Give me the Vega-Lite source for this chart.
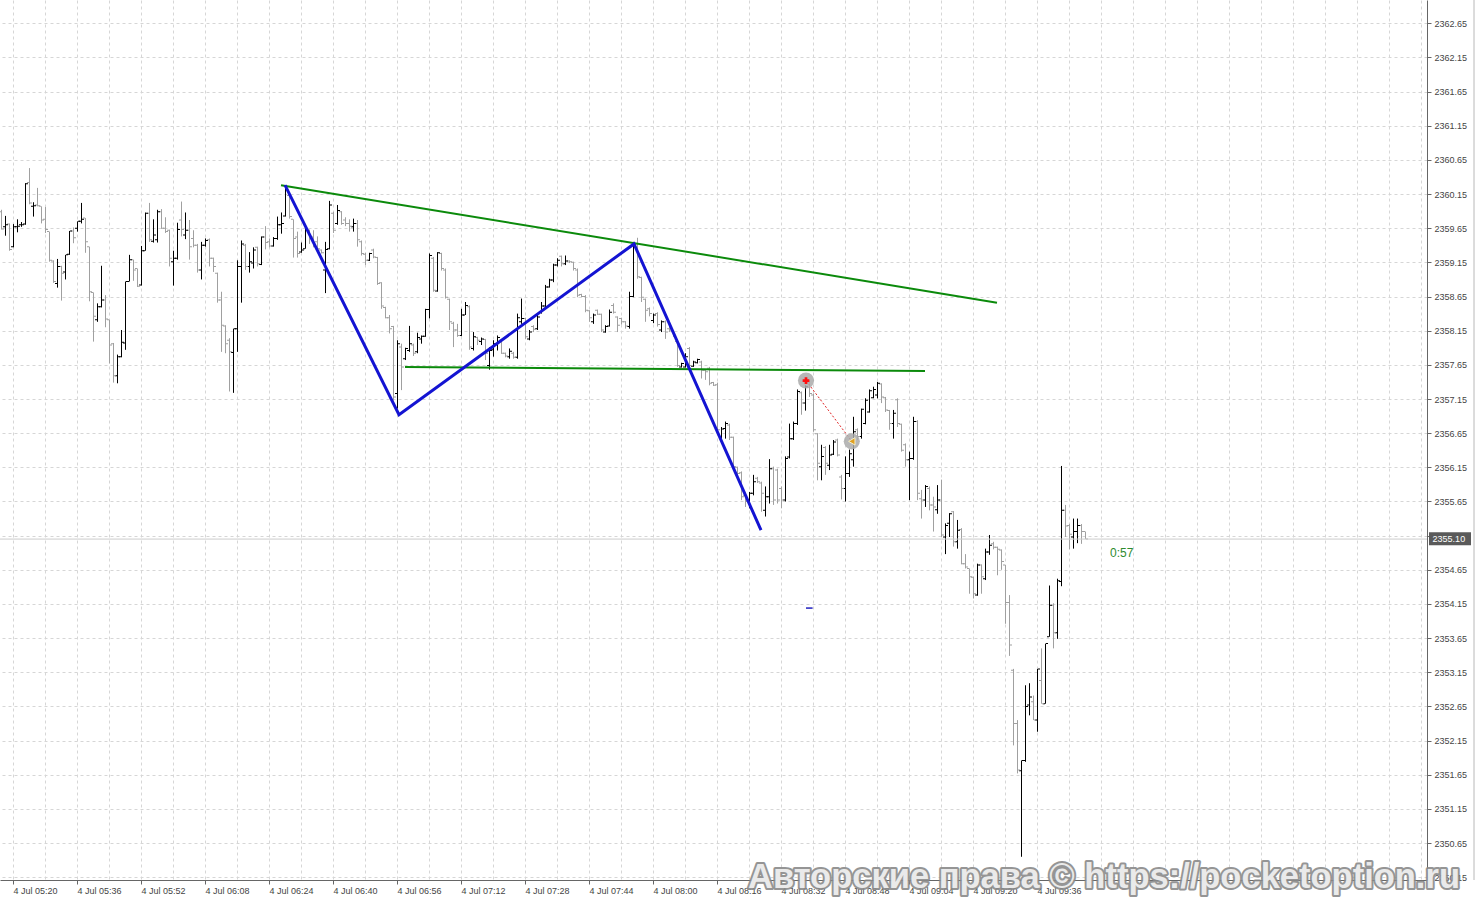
{
"$schema":"https://vega.github.io/schema/vega-lite/v6.json",
"width":1427,"height":880,
"autosize":{"type":"none"},
"padding":{"left":0,"top":0,"right":50,"bottom":21},
"background":"#ffffff",
"config":{"view":{"stroke":null}},
"datasets":{
"bars":[
{"t":-3,"o":2359.89,"h":2359.92,"l":2359.63,"c":2359.64},
{"t":-2,"o":2359.67,"h":2359.83,"l":2359.54,"c":2359.70},
{"t":-1,"o":2359.71,"h":2359.72,"l":2359.32,"c":2359.34},
{"t":0,"o":2359.38,"h":2359.71,"l":2359.37,"c":2359.67},
{"t":1,"o":2359.67,"h":2359.78,"l":2359.59,"c":2359.68},
{"t":2,"o":2359.70,"h":2359.74,"l":2359.67,"c":2359.70},
{"t":3,"o":2359.71,"h":2360.31,"l":2359.70,"c":2360.30},
{"t":4,"o":2360.32,"h":2360.53,"l":2360.00,"c":2360.02},
{"t":5,"o":2359.97,"h":2360.03,"l":2359.82,"c":2359.98},
{"t":6,"o":2359.99,"h":2360.24,"l":2359.97,"c":2359.98},
{"t":7,"o":2359.97,"h":2359.97,"l":2359.72,"c":2359.77},
{"t":8,"o":2359.78,"h":2359.96,"l":2359.58,"c":2359.63},
{"t":9,"o":2359.60,"h":2359.60,"l":2359.16,"c":2359.18},
{"t":10,"o":2359.17,"h":2359.18,"l":2358.85,"c":2358.87},
{"t":11,"o":2358.84,"h":2359.20,"l":2358.78,"c":2359.09},
{"t":12,"o":2359.09,"h":2359.10,"l":2358.59,"c":2358.99},
{"t":13,"o":2359.01,"h":2359.26,"l":2358.90,"c":2359.26},
{"t":14,"o":2359.27,"h":2359.61,"l":2359.26,"c":2359.61},
{"t":15,"o":2359.61,"h":2359.66,"l":2359.43,"c":2359.51},
{"t":16,"o":2359.65,"h":2359.75,"l":2359.60,"c":2359.75},
{"t":17,"o":2359.75,"h":2360.02,"l":2359.72,"c":2359.78},
{"t":18,"o":2359.80,"h":2359.80,"l":2359.29,"c":2359.45},
{"t":19,"o":2359.38,"h":2359.38,"l":2358.58,"c":2358.72},
{"t":20,"o":2358.71,"h":2358.71,"l":2357.99,"c":2358.36},
{"t":21,"o":2358.31,"h":2358.55,"l":2358.28,"c":2358.50},
{"t":22,"o":2358.50,"h":2359.10,"l":2358.49,"c":2358.60},
{"t":23,"o":2358.60,"h":2358.67,"l":2358.20,"c":2358.32},
{"t":24,"o":2358.31,"h":2358.31,"l":2357.67,"c":2357.94},
{"t":25,"o":2357.96,"h":2357.97,"l":2357.39,"c":2357.49},
{"t":26,"o":2357.49,"h":2357.80,"l":2357.38,"c":2357.77},
{"t":27,"o":2357.77,"h":2358.16,"l":2357.76,"c":2357.98},
{"t":28,"o":2357.97,"h":2358.87,"l":2357.87,"c":2358.87},
{"t":29,"o":2358.87,"h":2359.26,"l":2358.87,"c":2359.19},
{"t":30,"o":2359.19,"h":2359.19,"l":2358.88,"c":2359.04},
{"t":31,"o":2359.06,"h":2359.06,"l":2358.79,"c":2358.80},
{"t":32,"o":2358.82,"h":2359.39,"l":2358.81,"c":2359.32},
{"t":33,"o":2359.32,"h":2359.88,"l":2359.32,"c":2359.87},
{"t":34,"o":2359.87,"h":2360.02,"l":2359.45,"c":2359.48},
{"t":35,"o":2359.46,"h":2359.78,"l":2359.44,"c":2359.55},
{"t":36,"o":2359.48,"h":2359.92,"l":2359.44,"c":2359.89},
{"t":37,"o":2359.89,"h":2359.93,"l":2359.64,"c":2359.65},
{"t":38,"o":2359.65,"h":2359.81,"l":2359.58,"c":2359.60},
{"t":39,"o":2359.62,"h":2359.63,"l":2359.09,"c":2359.21},
{"t":40,"o":2359.16,"h":2359.32,"l":2358.81,"c":2359.21},
{"t":41,"o":2359.21,"h":2359.73,"l":2359.19,"c":2359.63},
{"t":42,"o":2359.77,"h":2360.04,"l":2359.53,"c":2359.63},
{"t":43,"o":2359.55,"h":2359.88,"l":2359.49,"c":2359.62},
{"t":44,"o":2359.62,"h":2359.77,"l":2359.19,"c":2359.38},
{"t":45,"o":2359.50,"h":2359.62,"l":2359.37,"c":2359.40},
{"t":46,"o":2359.40,"h":2359.42,"l":2359.00,"c":2359.04},
{"t":47,"o":2359.04,"h":2359.45,"l":2358.90,"c":2359.40},
{"t":48,"o":2359.40,"h":2359.50,"l":2359.38,"c":2359.47},
{"t":49,"o":2359.48,"h":2359.50,"l":2359.09,"c":2359.21},
{"t":50,"o":2359.21,"h":2359.22,"l":2359.01,"c":2359.09},
{"t":51,"o":2358.99,"h":2359.00,"l":2358.56,"c":2358.60},
{"t":52,"o":2358.60,"h":2358.72,"l":2357.84,"c":2358.23},
{"t":53,"o":2358.22,"h":2358.23,"l":2357.82,"c":2357.96},
{"t":54,"o":2358.01,"h":2358.04,"l":2357.26,"c":2357.84},
{"t":55,"o":2357.83,"h":2358.18,"l":2357.24,"c":2358.18},
{"t":56,"o":2358.18,"h":2359.18,"l":2357.84,"c":2359.09},
{"t":57,"o":2359.09,"h":2359.47,"l":2358.56,"c":2359.42},
{"t":58,"o":2359.40,"h":2359.42,"l":2359.04,"c":2359.09},
{"t":59,"o":2359.09,"h":2359.30,"l":2359.00,"c":2359.16},
{"t":60,"o":2359.14,"h":2359.37,"l":2359.06,"c":2359.33},
{"t":61,"o":2359.37,"h":2359.38,"l":2359.09,"c":2359.13},
{"t":62,"o":2359.12,"h":2359.53,"l":2359.11,"c":2359.52},
{"t":63,"o":2359.52,"h":2359.68,"l":2359.34,"c":2359.44},
{"t":64,"o":2359.45,"h":2359.50,"l":2359.37,"c":2359.39},
{"t":65,"o":2359.39,"h":2359.52,"l":2359.38,"c":2359.50},
{"t":66,"o":2359.50,"h":2359.82,"l":2359.48,"c":2359.70},
{"t":67,"o":2359.70,"h":2359.88,"l":2359.57,"c":2359.72},
{"t":68,"o":2359.83,"h":2360.28,"l":2359.82,"c":2360.23},
{"t":69,"o":2360.13,"h":2360.16,"l":2359.79,"c":2359.82},
{"t":70,"o":2359.78,"h":2359.78,"l":2359.22,"c":2359.50},
{"t":71,"o":2359.52,"h":2359.60,"l":2359.22,"c":2359.28},
{"t":72,"o":2359.30,"h":2359.44,"l":2359.29,"c":2359.33},
{"t":73,"o":2359.35,"h":2359.65,"l":2359.35,"c":2359.62},
{"t":74,"o":2359.62,"h":2359.63,"l":2359.42,"c":2359.50},
{"t":75,"o":2359.52,"h":2359.62,"l":2359.37,"c":2359.40},
{"t":76,"o":2359.45,"h":2359.53,"l":2359.33,"c":2359.35},
{"t":77,"o":2359.33,"h":2359.34,"l":2359.28,"c":2359.29},
{"t":78,"o":2359.04,"h":2359.45,"l":2358.70,"c":2359.34},
{"t":79,"o":2359.35,"h":2360.05,"l":2359.34,"c":2359.99},
{"t":80,"o":2359.87,"h":2359.89,"l":2359.58,"c":2359.62},
{"t":81,"o":2359.72,"h":2359.99,"l":2359.70,"c":2359.91},
{"t":82,"o":2359.89,"h":2359.90,"l":2359.70,"c":2359.72},
{"t":83,"o":2359.77,"h":2359.81,"l":2359.68,"c":2359.72},
{"t":84,"o":2359.72,"h":2359.78,"l":2359.60,"c":2359.68},
{"t":85,"o":2359.67,"h":2359.79,"l":2359.60,"c":2359.72},
{"t":86,"o":2359.72,"h":2359.77,"l":2359.38,"c":2359.48},
{"t":87,"o":2359.45,"h":2359.47,"l":2359.25,"c":2359.28},
{"t":88,"o":2359.27,"h":2359.29,"l":2359.11,"c":2359.18},
{"t":89,"o":2359.18,"h":2359.29,"l":2359.17,"c":2359.28},
{"t":90,"o":2359.33,"h":2359.35,"l":2359.21,"c":2359.23},
{"t":91,"o":2359.22,"h":2359.23,"l":2358.82,"c":2358.84},
{"t":92,"o":2358.85,"h":2358.86,"l":2358.47,"c":2358.51},
{"t":93,"o":2358.49,"h":2358.50,"l":2358.33,"c":2358.34},
{"t":94,"o":2358.34,"h":2358.38,"l":2358.11,"c":2358.18},
{"t":95,"o":2358.21,"h":2358.22,"l":2357.13,"c":2357.18},
{"t":96,"o":2357.23,"h":2358.01,"l":2357.01,"c":2357.96},
{"t":97,"o":2357.91,"h":2357.96,"l":2357.28,"c":2357.62},
{"t":98,"o":2357.74,"h":2357.90,"l":2357.72,"c":2357.89},
{"t":99,"o":2357.86,"h":2358.22,"l":2357.84,"c":2357.96},
{"t":100,"o":2357.94,"h":2357.96,"l":2357.78,"c":2357.82},
{"t":101,"o":2357.84,"h":2358.12,"l":2357.82,"c":2358.05},
{"t":102,"o":2358.03,"h":2358.08,"l":2357.96,"c":2358.07},
{"t":103,"o":2358.07,"h":2358.47,"l":2358.06,"c":2358.46},
{"t":104,"o":2358.46,"h":2359.28,"l":2358.33,"c":2359.25},
{"t":105,"o":2359.21,"h":2359.23,"l":2358.72,"c":2358.74},
{"t":106,"o":2358.73,"h":2359.30,"l":2358.72,"c":2359.29},
{"t":107,"o":2359.28,"h":2359.29,"l":2359.03,"c":2359.06},
{"t":108,"o":2359.04,"h":2359.06,"l":2358.62,"c":2358.64},
{"t":109,"o":2358.61,"h":2358.62,"l":2358.16,"c":2358.28},
{"t":110,"o":2358.26,"h":2358.28,"l":2357.91,"c":2358.16},
{"t":111,"o":2358.16,"h":2358.25,"l":2358.06,"c":2358.08},
{"t":112,"o":2358.08,"h":2358.47,"l":2358.07,"c":2358.38},
{"t":113,"o":2358.38,"h":2358.57,"l":2358.38,"c":2358.52},
{"t":114,"o":2358.50,"h":2358.52,"l":2357.87,"c":2357.91},
{"t":115,"o":2357.89,"h":2358.13,"l":2357.86,"c":2358.06},
{"t":116,"o":2358.05,"h":2358.06,"l":2357.94,"c":2358.01},
{"t":117,"o":2357.99,"h":2358.05,"l":2357.94,"c":2358.03},
{"t":118,"o":2358.02,"h":2358.03,"l":2357.72,"c":2357.82},
{"t":119,"o":2357.64,"h":2357.91,"l":2357.58,"c":2357.86},
{"t":120,"o":2357.87,"h":2358.01,"l":2357.77,"c":2357.96},
{"t":121,"o":2357.96,"h":2358.08,"l":2357.86,"c":2358.05},
{"t":122,"o":2358.01,"h":2358.02,"l":2357.81,"c":2357.82},
{"t":123,"o":2357.82,"h":2357.83,"l":2357.76,"c":2357.78},
{"t":124,"o":2357.77,"h":2357.89,"l":2357.74,"c":2357.85},
{"t":125,"o":2357.82,"h":2357.84,"l":2357.74,"c":2357.76},
{"t":126,"o":2357.76,"h":2358.40,"l":2357.74,"c":2358.34},
{"t":127,"o":2358.28,"h":2358.62,"l":2358.25,"c":2358.33},
{"t":128,"o":2358.33,"h":2358.34,"l":2358.03,"c":2358.06},
{"t":129,"o":2358.03,"h":2358.16,"l":2358.01,"c":2358.13},
{"t":130,"o":2358.21,"h":2358.23,"l":2358.13,"c":2358.17},
{"t":131,"o":2358.18,"h":2358.38,"l":2358.16,"c":2358.35},
{"t":132,"o":2358.42,"h":2358.57,"l":2358.40,"c":2358.51},
{"t":133,"o":2358.51,"h":2358.82,"l":2358.49,"c":2358.79},
{"t":134,"o":2358.79,"h":2358.91,"l":2358.78,"c":2358.89},
{"t":135,"o":2358.89,"h":2359.13,"l":2358.86,"c":2359.11},
{"t":136,"o":2359.11,"h":2359.21,"l":2359.09,"c":2359.18},
{"t":137,"o":2359.24,"h":2359.25,"l":2359.09,"c":2359.13},
{"t":138,"o":2359.13,"h":2359.25,"l":2359.11,"c":2359.17},
{"t":139,"o":2359.17,"h":2359.18,"l":2359.14,"c":2359.16},
{"t":140,"o":2359.15,"h":2359.16,"l":2359.03,"c":2359.06},
{"t":141,"o":2359.04,"h":2359.06,"l":2358.64,"c":2358.67},
{"t":142,"o":2358.68,"h":2358.69,"l":2358.64,"c":2358.65},
{"t":143,"o":2358.65,"h":2358.67,"l":2358.42,"c":2358.45},
{"t":144,"o":2358.44,"h":2358.45,"l":2358.28,"c":2358.34},
{"t":145,"o":2358.28,"h":2358.40,"l":2358.25,"c":2358.38},
{"t":146,"o":2358.45,"h":2358.46,"l":2358.38,"c":2358.39},
{"t":147,"o":2358.39,"h":2358.40,"l":2358.13,"c":2358.16},
{"t":148,"o":2358.13,"h":2358.23,"l":2358.12,"c":2358.21},
{"t":149,"o":2358.22,"h":2358.46,"l":2358.21,"c":2358.42},
{"t":150,"o":2358.52,"h":2358.55,"l":2358.40,"c":2358.42},
{"t":151,"o":2358.35,"h":2358.36,"l":2358.13,"c":2358.23},
{"t":152,"o":2358.33,"h":2358.34,"l":2358.24,"c":2358.28},
{"t":153,"o":2358.28,"h":2358.29,"l":2358.18,"c":2358.22},
{"t":154,"o":2358.21,"h":2358.72,"l":2358.18,"c":2358.65},
{"t":155,"o":2358.65,"h":2359.45,"l":2358.64,"c":2359.42},
{"t":156,"o":2359.42,"h":2359.51,"l":2358.91,"c":2358.94},
{"t":157,"o":2358.93,"h":2358.94,"l":2358.57,"c":2358.64},
{"t":158,"o":2358.61,"h":2358.62,"l":2358.28,"c":2358.45},
{"t":159,"o":2358.47,"h":2358.49,"l":2358.36,"c":2358.40},
{"t":160,"o":2358.30,"h":2358.40,"l":2358.26,"c":2358.38},
{"t":161,"o":2358.40,"h":2358.42,"l":2358.21,"c":2358.24},
{"t":162,"o":2358.16,"h":2358.30,"l":2358.13,"c":2358.28},
{"t":163,"o":2358.28,"h":2358.30,"l":2358.03,"c":2358.13},
{"t":164,"o":2358.18,"h":2358.21,"l":2358.13,"c":2358.16},
{"t":165,"o":2358.15,"h":2358.16,"l":2358.06,"c":2358.08},
{"t":166,"o":2357.99,"h":2358.01,"l":2357.62,"c":2357.64},
{"t":167,"o":2357.62,"h":2357.68,"l":2357.61,"c":2357.67},
{"t":168,"o":2357.62,"h":2357.82,"l":2357.61,"c":2357.77},
{"t":169,"o":2357.89,"h":2357.91,"l":2357.61,"c":2357.64},
{"t":170,"o":2357.63,"h":2357.71,"l":2357.62,"c":2357.69},
{"t":171,"o":2357.68,"h":2357.74,"l":2357.67,"c":2357.73},
{"t":172,"o":2357.69,"h":2357.71,"l":2357.45,"c":2357.57},
{"t":173,"o":2357.57,"h":2357.58,"l":2357.43,"c":2357.55},
{"t":174,"o":2357.60,"h":2357.62,"l":2357.35,"c":2357.38},
{"t":175,"o":2357.39,"h":2357.40,"l":2357.34,"c":2357.35},
{"t":176,"o":2357.36,"h":2357.39,"l":2356.67,"c":2356.70},
{"t":177,"o":2356.59,"h":2356.74,"l":2356.55,"c":2356.71},
{"t":178,"o":2356.72,"h":2356.82,"l":2356.57,"c":2356.79},
{"t":179,"o":2356.77,"h":2356.79,"l":2356.55,"c":2356.59},
{"t":180,"o":2356.59,"h":2356.60,"l":2356.11,"c":2356.16},
{"t":181,"o":2356.15,"h":2356.16,"l":2356.04,"c":2356.06},
{"t":182,"o":2356.07,"h":2356.09,"l":2355.67,"c":2355.72},
{"t":183,"o":2355.74,"h":2355.77,"l":2355.57,"c":2355.65},
{"t":184,"o":2355.65,"h":2355.79,"l":2355.55,"c":2355.77},
{"t":185,"o":2355.77,"h":2356.04,"l":2355.74,"c":2355.94},
{"t":186,"o":2355.99,"h":2356.01,"l":2355.92,"c":2355.94},
{"t":187,"o":2355.92,"h":2355.94,"l":2355.50,"c":2355.77},
{"t":188,"o":2355.52,"h":2355.87,"l":2355.43,"c":2355.72},
{"t":189,"o":2355.72,"h":2356.27,"l":2355.62,"c":2356.13},
{"t":190,"o":2356.13,"h":2356.16,"l":2355.60,"c":2355.67},
{"t":191,"o":2356.11,"h":2356.13,"l":2355.62,"c":2355.67},
{"t":192,"o":2355.84,"h":2355.87,"l":2355.55,"c":2355.67},
{"t":193,"o":2355.67,"h":2356.31,"l":2355.65,"c":2356.28},
{"t":194,"o":2356.30,"h":2356.79,"l":2356.28,"c":2356.57},
{"t":195,"o":2356.57,"h":2356.82,"l":2356.55,"c":2356.79},
{"t":196,"o":2356.79,"h":2357.29,"l":2356.77,"c":2357.26},
{"t":197,"o":2357.24,"h":2357.26,"l":2356.92,"c":2357.09},
{"t":198,"o":2357.09,"h":2357.35,"l":2356.98,"c":2357.33},
{"t":199,"o":2357.40,"h":2357.43,"l":2357.18,"c":2357.23},
{"t":200,"o":2357.21,"h":2357.23,"l":2356.67,"c":2356.70},
{"t":201,"o":2356.64,"h":2356.65,"l":2355.96,"c":2356.21},
{"t":202,"o":2356.16,"h":2356.48,"l":2355.96,"c":2356.31},
{"t":203,"o":2356.44,"h":2356.46,"l":2356.04,"c":2356.21},
{"t":204,"o":2356.18,"h":2356.48,"l":2356.11,"c":2356.33},
{"t":205,"o":2356.34,"h":2356.55,"l":2356.33,"c":2356.52},
{"t":206,"o":2356.55,"h":2356.57,"l":2356.31,"c":2356.33},
{"t":207,"o":2356.01,"h":2356.04,"l":2355.68,"c":2355.84},
{"t":208,"o":2355.84,"h":2356.31,"l":2355.65,"c":2356.06},
{"t":209,"o":2356.06,"h":2356.41,"l":2356.01,"c":2356.35},
{"t":210,"o":2356.26,"h":2356.89,"l":2356.16,"c":2356.67},
{"t":211,"o":2356.70,"h":2356.72,"l":2356.55,"c":2356.60},
{"t":212,"o":2356.60,"h":2357.01,"l":2356.57,"c":2357.00},
{"t":213,"o":2356.79,"h":2357.16,"l":2356.78,"c":2357.13},
{"t":214,"o":2356.96,"h":2357.29,"l":2356.95,"c":2357.27},
{"t":215,"o":2357.17,"h":2357.33,"l":2357.16,"c":2357.29},
{"t":216,"o":2357.21,"h":2357.40,"l":2357.16,"c":2357.38},
{"t":217,"o":2357.37,"h":2357.38,"l":2357.09,"c":2357.18},
{"t":218,"o":2357.17,"h":2357.18,"l":2356.96,"c":2356.99},
{"t":219,"o":2356.98,"h":2356.99,"l":2356.70,"c":2356.79},
{"t":220,"o":2356.79,"h":2356.99,"l":2356.57,"c":2356.94},
{"t":221,"o":2357.14,"h":2357.16,"l":2356.74,"c":2356.79},
{"t":222,"o":2356.78,"h":2356.79,"l":2356.38,"c":2356.40},
{"t":223,"o":2356.48,"h":2356.50,"l":2356.16,"c":2356.26},
{"t":224,"o":2356.26,"h":2356.38,"l":2355.67,"c":2356.28},
{"t":225,"o":2356.28,"h":2356.89,"l":2356.26,"c":2356.82},
{"t":226,"o":2356.82,"h":2356.84,"l":2355.67,"c":2355.77},
{"t":227,"o":2355.69,"h":2355.82,"l":2355.40,"c":2355.67},
{"t":228,"o":2355.67,"h":2355.89,"l":2355.57,"c":2355.87},
{"t":229,"o":2355.84,"h":2355.87,"l":2355.52,"c":2355.60},
{"t":230,"o":2355.60,"h":2355.72,"l":2355.21,"c":2355.57},
{"t":231,"o":2355.53,"h":2355.89,"l":2355.47,"c":2355.67},
{"t":232,"o":2355.67,"h":2355.97,"l":2355.13,"c":2355.16},
{"t":233,"o":2355.13,"h":2355.33,"l":2354.88,"c":2355.30},
{"t":234,"o":2355.33,"h":2355.48,"l":2355.13,"c":2355.47},
{"t":235,"o":2355.50,"h":2355.51,"l":2354.99,"c":2355.06},
{"t":236,"o":2355.06,"h":2355.38,"l":2354.96,"c":2355.23},
{"t":237,"o":2355.24,"h":2355.26,"l":2354.73,"c":2354.74},
{"t":238,"o":2354.74,"h":2354.88,"l":2354.67,"c":2354.69},
{"t":239,"o":2354.67,"h":2354.67,"l":2354.30,"c":2354.55},
{"t":240,"o":2354.54,"h":2354.55,"l":2354.23,"c":2354.30},
{"t":241,"o":2354.28,"h":2354.74,"l":2354.27,"c":2354.72},
{"t":242,"o":2354.72,"h":2354.73,"l":2354.30,"c":2354.55},
{"t":243,"o":2354.52,"h":2354.96,"l":2354.50,"c":2354.91},
{"t":244,"o":2354.91,"h":2355.16,"l":2354.87,"c":2355.01},
{"t":245,"o":2355.03,"h":2355.06,"l":2354.95,"c":2354.98},
{"t":246,"o":2354.98,"h":2354.99,"l":2354.57,"c":2354.95},
{"t":247,"o":2354.94,"h":2354.95,"l":2354.65,"c":2354.77},
{"t":248,"o":2354.72,"h":2354.72,"l":2353.86,"c":2354.17},
{"t":249,"o":2354.17,"h":2354.28,"l":2353.39,"c":2353.55},
{"t":250,"o":2353.18,"h":2353.20,"l":2352.08,"c":2352.40},
{"t":251,"o":2352.40,"h":2352.45,"l":2351.67,"c":2351.72},
{"t":252,"o":2351.71,"h":2351.86,"l":2350.45,"c":2351.86},
{"t":253,"o":2351.86,"h":2352.96,"l":2351.84,"c":2352.65},
{"t":254,"o":2352.67,"h":2352.99,"l":2352.52,"c":2352.79},
{"t":255,"o":2352.72,"h":2352.81,"l":2352.45,"c":2352.45},
{"t":256,"o":2352.45,"h":2353.20,"l":2352.28,"c":2353.20},
{"t":257,"o":2353.03,"h":2353.50,"l":2352.69,"c":2352.69},
{"t":258,"o":2352.69,"h":2353.57,"l":2352.69,"c":2353.57},
{"t":259,"o":2353.67,"h":2354.42,"l":2353.67,"c":2354.13},
{"t":260,"o":2354.13,"h":2354.16,"l":2353.50,"c":2353.73},
{"t":261,"o":2353.73,"h":2354.52,"l":2353.64,"c":2354.49},
{"t":262,"o":2354.48,"h":2356.17,"l":2354.41,"c":2355.52},
{"t":263,"o":2355.52,"h":2355.60,"l":2355.13,"c":2355.29},
{"t":264,"o":2355.30,"h":2355.32,"l":2354.95,"c":2355.17},
{"t":265,"o":2355.13,"h":2355.40,"l":2354.96,"c":2355.21},
{"t":266,"o":2355.21,"h":2355.40,"l":2355.04,"c":2355.30},
{"t":267,"o":2355.30,"h":2355.32,"l":2355.03,"c":2355.21},
{"t":268,"o":2355.21,"h":2355.21,"l":2355.10,"c":2355.10}
],
"trend":[
{"id":"upper","t":67,"p":2360.28},{"id":"upper","t":246,"p":2358.56},
{"id":"lower","t":98,"p":2357.62},{"id":"lower","t":228,"p":2357.56}
],
"zigzag":[
{"t":68,"p":2360.28},{"t":96.5,"p":2356.92},{"t":155.25,"p":2359.42},{"t":187,"p":2355.23}
],
"signal":[
{"kind":"open","t":198.25,"p":2357.42},{"kind":"close","t":209.7,"p":2356.53}
],
"watermark":[
{"t":183.75,"p":2350.0,"label":"Авторские права © https://pocketoption.ru"}
]
},
"layer":[
{"data":{"name":"bars"},
 "mark":{"type":"rule","strokeWidth":1,"xOffset":0.5},
 "encoding":{
  "x":{"field":"t","type":"quantitative","scale":{"domain":[-3.25,353.5],"nice":false,"zero":false},
   "axis":{"title":null,"values":[0,8,16,24,32,40,48,56,64,72,80,88,96,104,112,120,128,136,144,152,160,168,176,184,192,200,208,216,224,232,240,248,256,264,272,280,288,296,304,312,320,328,336,344,352],
    "tickCount":200,
    "grid":true,"gridColor":"#d6d6d6","gridDash":[3,3],"gridWidth":1,
    "domainColor":"#666666","tickSize":4,
    "tickColor":{"condition":{"test":"datum.value % 16 != 0 || datum.value > 256","value":"transparent"},"value":"#666666"},
    "labelExpr":"(datum.value % 16 == 0 && datum.value <= 256) ? '4 Jul ' + timeFormat(datetime(2024,6,4,5,20+datum.value), '%H:%M') : ''",
    "labelAlign":"left","labelBaseline":"top","labelPadding":2,"labelFont":"Liberation Sans","labelFontSize":9,"labelColor":"#444444",
    "labelFlush":false,"labelOverlap":false,"labelBound":false}},
  "y":{"field":"l","type":"quantitative","scale":{"domain":[2350.11,2362.99],"nice":false,"zero":false},
   "axis":{"orient":"right","title":null,"values":[2350.15,2350.65,2351.15,2351.65,2352.15,2352.65,2353.15,2353.65,2354.15,2354.65,2355.15,2355.65,2356.15,2356.65,2357.15,2357.65,2358.15,2358.65,2359.15,2359.65,2360.15,2360.65,2361.15,2361.65,2362.15,2362.65],
    "tickCount":200,
    "format":".2f","grid":true,"gridColor":"#d6d6d6","gridDash":[3,3],"gridWidth":1,
    "domainColor":"#666666","tickColor":"#666666","tickSize":4,"labelPadding":3,
    "labelFont":"Liberation Sans","labelFontSize":9,"labelColor":"#444444","labelOverlap":false,"labelFlush":false,"labelBound":false}},
  "y2":{"field":"h"},
  "color":{"condition":{"test":"datum.c >= datum.o","value":"#000000"},"value":"#a0a0a0"}
 }},
{"data":{"name":"bars"},
 "mark":{"type":"tick","orient":"horizontal","size":2,"thickness":1,"xOffset":-1,"opacity":1},
 "encoding":{
  "x":{"field":"t","type":"quantitative","scale":{"domain":[-3.25,353.5],"nice":false,"zero":false}},
  "y":{"field":"o","type":"quantitative","scale":{"domain":[2350.11,2362.99],"nice":false,"zero":false}},
  "color":{"condition":{"test":"datum.c >= datum.o","value":"#000000"},"value":"#a0a0a0"}
 }},
{"data":{"name":"bars"},
 "mark":{"type":"tick","orient":"horizontal","size":2,"thickness":1,"xOffset":2,"opacity":1},
 "encoding":{
  "x":{"field":"t","type":"quantitative","scale":{"domain":[-3.25,353.5],"nice":false,"zero":false}},
  "y":{"field":"c","type":"quantitative","scale":{"domain":[2350.11,2362.99],"nice":false,"zero":false}},
  "color":{"condition":{"test":"datum.c >= datum.o","value":"#000000"},"value":"#a0a0a0"}
 }},
{"data":{"values":[{"p":2355.10}]},
 "mark":{"type":"rule","color":"#cccccc","strokeWidth":1},
 "encoding":{
  "y":{"field":"p","type":"quantitative","scale":{"domain":[2350.11,2362.99],"nice":false,"zero":false}}
 }},
{"data":{"name":"trend"},
 "mark":{"type":"line","color":"#0b8a0b","strokeWidth":2},
 "encoding":{
  "x":{"field":"t","type":"quantitative","scale":{"domain":[-3.25,353.5],"nice":false,"zero":false}},
  "y":{"field":"p","type":"quantitative","scale":{"domain":[2350.11,2362.99],"nice":false,"zero":false}},
  "detail":{"field":"id"}
 }},
{"data":{"name":"zigzag"},
 "mark":{"type":"line","color":"#1414d2","strokeWidth":3},
 "encoding":{
  "x":{"field":"t","type":"quantitative","scale":{"domain":[-3.25,353.5],"nice":false,"zero":false}},
  "y":{"field":"p","type":"quantitative","scale":{"domain":[2350.11,2362.99],"nice":false,"zero":false}},
  "order":{"field":"t"}
 }},
{"data":{"name":"signal"},
 "mark":{"type":"line","color":"#e02020","strokeWidth":1,"strokeDash":[2,2]},
 "encoding":{
  "x":{"field":"t","type":"quantitative","scale":{"domain":[-3.25,353.5],"nice":false,"zero":false}},
  "y":{"field":"p","type":"quantitative","scale":{"domain":[2350.11,2362.99],"nice":false,"zero":false}}
 }},
{"data":{"name":"signal"},
 "mark":{"type":"point","shape":"circle","filled":true,"size":260,"color":"#aaaaaa","opacity":0.85},
 "encoding":{
  "x":{"field":"t","type":"quantitative","scale":{"domain":[-3.25,353.5],"nice":false,"zero":false}},
  "y":{"field":"p","type":"quantitative","scale":{"domain":[2350.11,2362.99],"nice":false,"zero":false}}
 }},
{"data":{"name":"signal"},"transform":[{"filter":"datum.kind == 'open'"}],
 "mark":{"type":"point","shape":"cross","filled":true,"size":45,"color":"#ff1010","opacity":1},
 "encoding":{
  "x":{"field":"t","type":"quantitative","scale":{"domain":[-3.25,353.5],"nice":false,"zero":false}},
  "y":{"field":"p","type":"quantitative","scale":{"domain":[2350.11,2362.99],"nice":false,"zero":false}}
 }},
{"data":{"name":"signal"},"transform":[{"filter":"datum.kind == 'close'"}],
 "mark":{"type":"point","shape":"triangle-left","filled":true,"size":55,"color":"#e0a020","opacity":1,"stroke":"#f4f0d0","strokeWidth":1},
 "encoding":{
  "x":{"field":"t","type":"quantitative","scale":{"domain":[-3.25,353.5],"nice":false,"zero":false}},
  "y":{"field":"p","type":"quantitative","scale":{"domain":[2350.11,2362.99],"nice":false,"zero":false}}
 }},
{"data":{"values":[{"t":198.25,"t2":199.9,"p":2354.09}]},
 "mark":{"type":"rule","color":"#2020c0","strokeWidth":1.5},
 "encoding":{
  "x":{"field":"t","type":"quantitative","scale":{"domain":[-3.25,353.5],"nice":false,"zero":false}},
  "x2":{"field":"t2"},
  "y":{"field":"p","type":"quantitative","scale":{"domain":[2350.11,2362.99],"nice":false,"zero":false}}
 }},
{"data":{"values":[{"t":274.25,"p":2354.90,"label":"0:57"}]},
 "mark":{"type":"text","align":"left","baseline":"middle","font":"Liberation Sans","fontSize":12,"color":"#2e8b2e"},
 "encoding":{
  "x":{"field":"t","type":"quantitative","scale":{"domain":[-3.25,353.5],"nice":false,"zero":false}},
  "y":{"field":"p","type":"quantitative","scale":{"domain":[2350.11,2362.99],"nice":false,"zero":false}},
  "text":{"field":"label"}
 }},
{"data":{"values":[{"t":354,"t2":364.5,"p":2355.20,"p2":2355.01}]},
 "mark":{"type":"rect","color":"#5a5a5a"},
 "encoding":{
  "x":{"field":"t","type":"quantitative","scale":{"domain":[-3.25,353.5],"nice":false,"zero":false}},
  "x2":{"field":"t2"},
  "y":{"field":"p","type":"quantitative","scale":{"domain":[2350.11,2362.99],"nice":false,"zero":false}},
  "y2":{"field":"p2"}
 }},
{"data":{"values":[{"t":354.9,"p":2355.10,"label":"2355.10"}]},
 "mark":{"type":"text","align":"left","baseline":"middle","font":"Liberation Sans","fontSize":9,"color":"#ffffff"},
 "encoding":{
  "x":{"field":"t","type":"quantitative","scale":{"domain":[-3.25,353.5],"nice":false,"zero":false}},
  "y":{"field":"p","type":"quantitative","scale":{"domain":[2350.11,2362.99],"nice":false,"zero":false}},
  "text":{"field":"label"}
 }},
{"data":{"values":[{"t":365.25}]},
 "mark":{"type":"rule","color":"#b8b8b8","strokeWidth":1},
 "encoding":{
  "x":{"field":"t","type":"quantitative","scale":{"domain":[-3.25,353.5],"nice":false,"zero":false}}
 }},
{"data":{"name":"watermark"},
 "mark":{"type":"text","align":"left","baseline":"alphabetic","font":"Liberation Sans","fontSize":34.5,"fontWeight":"bold","fill":"#8a8a8a","stroke":"#8a8a8a","strokeWidth":4,"strokeJoin":"round","opacity":0.9},
 "encoding":{
  "x":{"field":"t","type":"quantitative","scale":{"domain":[-3.25,353.5],"nice":false,"zero":false}},
  "y":{"field":"p","type":"quantitative","scale":{"domain":[2350.11,2362.99],"nice":false,"zero":false}},
  "text":{"field":"label"}
 }},
{"data":{"name":"watermark"},
 "mark":{"type":"text","align":"left","baseline":"alphabetic","font":"Liberation Sans","fontSize":34.5,"fontWeight":"bold","fill":"#f2f2f2","opacity":0.92},
 "encoding":{
  "x":{"field":"t","type":"quantitative","scale":{"domain":[-3.25,353.5],"nice":false,"zero":false}},
  "y":{"field":"p","type":"quantitative","scale":{"domain":[2350.11,2362.99],"nice":false,"zero":false}},
  "text":{"field":"label"}
 }}
]
}
